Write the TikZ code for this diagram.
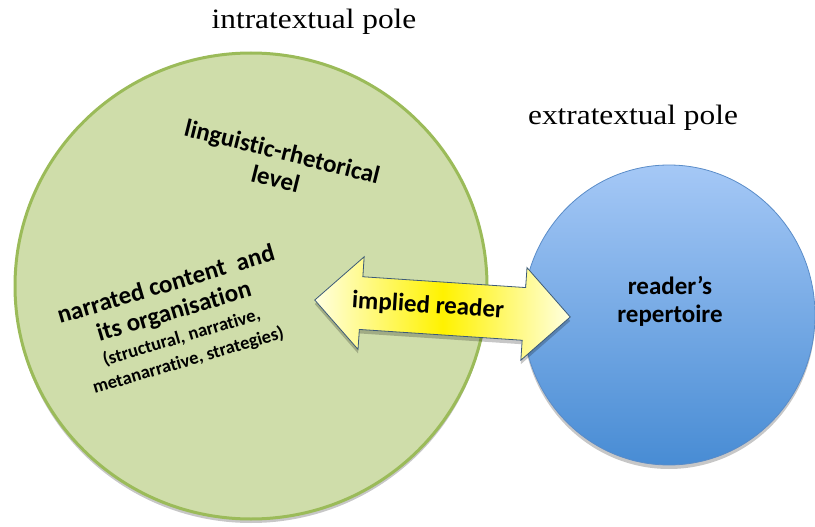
\documentclass[tikz,border=0pt]{standalone}
\usepackage{fontspec}
\setmainfont{Carlito}[Ligatures=NoCommon]
\newfontfamily\titlefont[FakeStretch=1.12]{Liberation Serif}
\usetikzlibrary{shapes.geometric,shapes.arrows,shadows}
\definecolor{greenfill}{RGB}{207,221,170}
\definecolor{greenline}{RGB}{155,187,89}
\definecolor{bluetop}{RGB}{165,200,246}
\definecolor{bluebot}{RGB}{72,140,212}
\definecolor{blueline}{RGB}{90,140,200}
\definecolor{arrowpale}{RGB}{255,255,225}
\definecolor{arrowmid}{RGB}{255,242,0}
\definecolor{arrowline}{RGB}{60,90,120}
\tikzset{
  pole/.style={font=\titlefont\fontsize{28}{30}\selectfont, inner sep=0pt},
  inlabel/.style={font=\bfseries\fontsize{25}{28}\selectfont, align=center, inner sep=0pt},
  soft/.style={drop shadow={shadow xshift=0pt, shadow yshift=-4pt, opacity=0.22, fill=black}}
}
\begin{document}
\begin{tikzpicture}[x=1pt,y=-1pt]
\useasboundingbox (0,0) rectangle (815,527);
% circles
\node[ellipse, soft, minimum width=472pt, minimum height=466pt, inner sep=0pt,
      fill=greenfill, draw=greenline, line width=3pt] (intra) at (251,286) {};
\node[ellipse, soft, minimum width=292pt, minimum height=300pt, inner sep=0pt,
      top color=bluetop, bottom color=bluebot, draw=blueline, line width=0.8pt] (extra) at (669,315) {};
% titles
\node[pole] (intratitle) at (314,22) {intratextual pole};
\node[pole] (extratitle) at (633,118) {extratextual pole};
% texts in green circle
\node[inlabel, rotate=-14] (ling) at (279,165) {linguistic-rhetorical\\level};
\node[inlabel, rotate=16.5] (narr) at (177,322)
  {narrated content\ \ and\\its organisation\\[-3pt]
   {\fontsize{18.5}{20}\selectfont (structural, narrative,}\\[-4pt]
   {\fontsize{18.5}{20}\selectfont metanarrative, strategies)}};
% blue text
\node[inlabel] (rep) at (670,301) {reader’s\\repertoire};
% arrow
\node[double arrow, rotate=-3.8, soft, draw=arrowline, line width=0.8pt,
      left color=arrowpale, right color=arrowpale, middle color=arrowmid,
      minimum height=256pt, minimum width=92pt, inner xsep=0pt, inner ysep=26pt,
      double arrow head extend=20pt, double arrow tip angle=90] (implied) at (442.5,308.5) {};
\node[inlabel, rotate=-3.8] (impliedtext) at (428,306) {implied reader};
\end{tikzpicture}
\end{document}
